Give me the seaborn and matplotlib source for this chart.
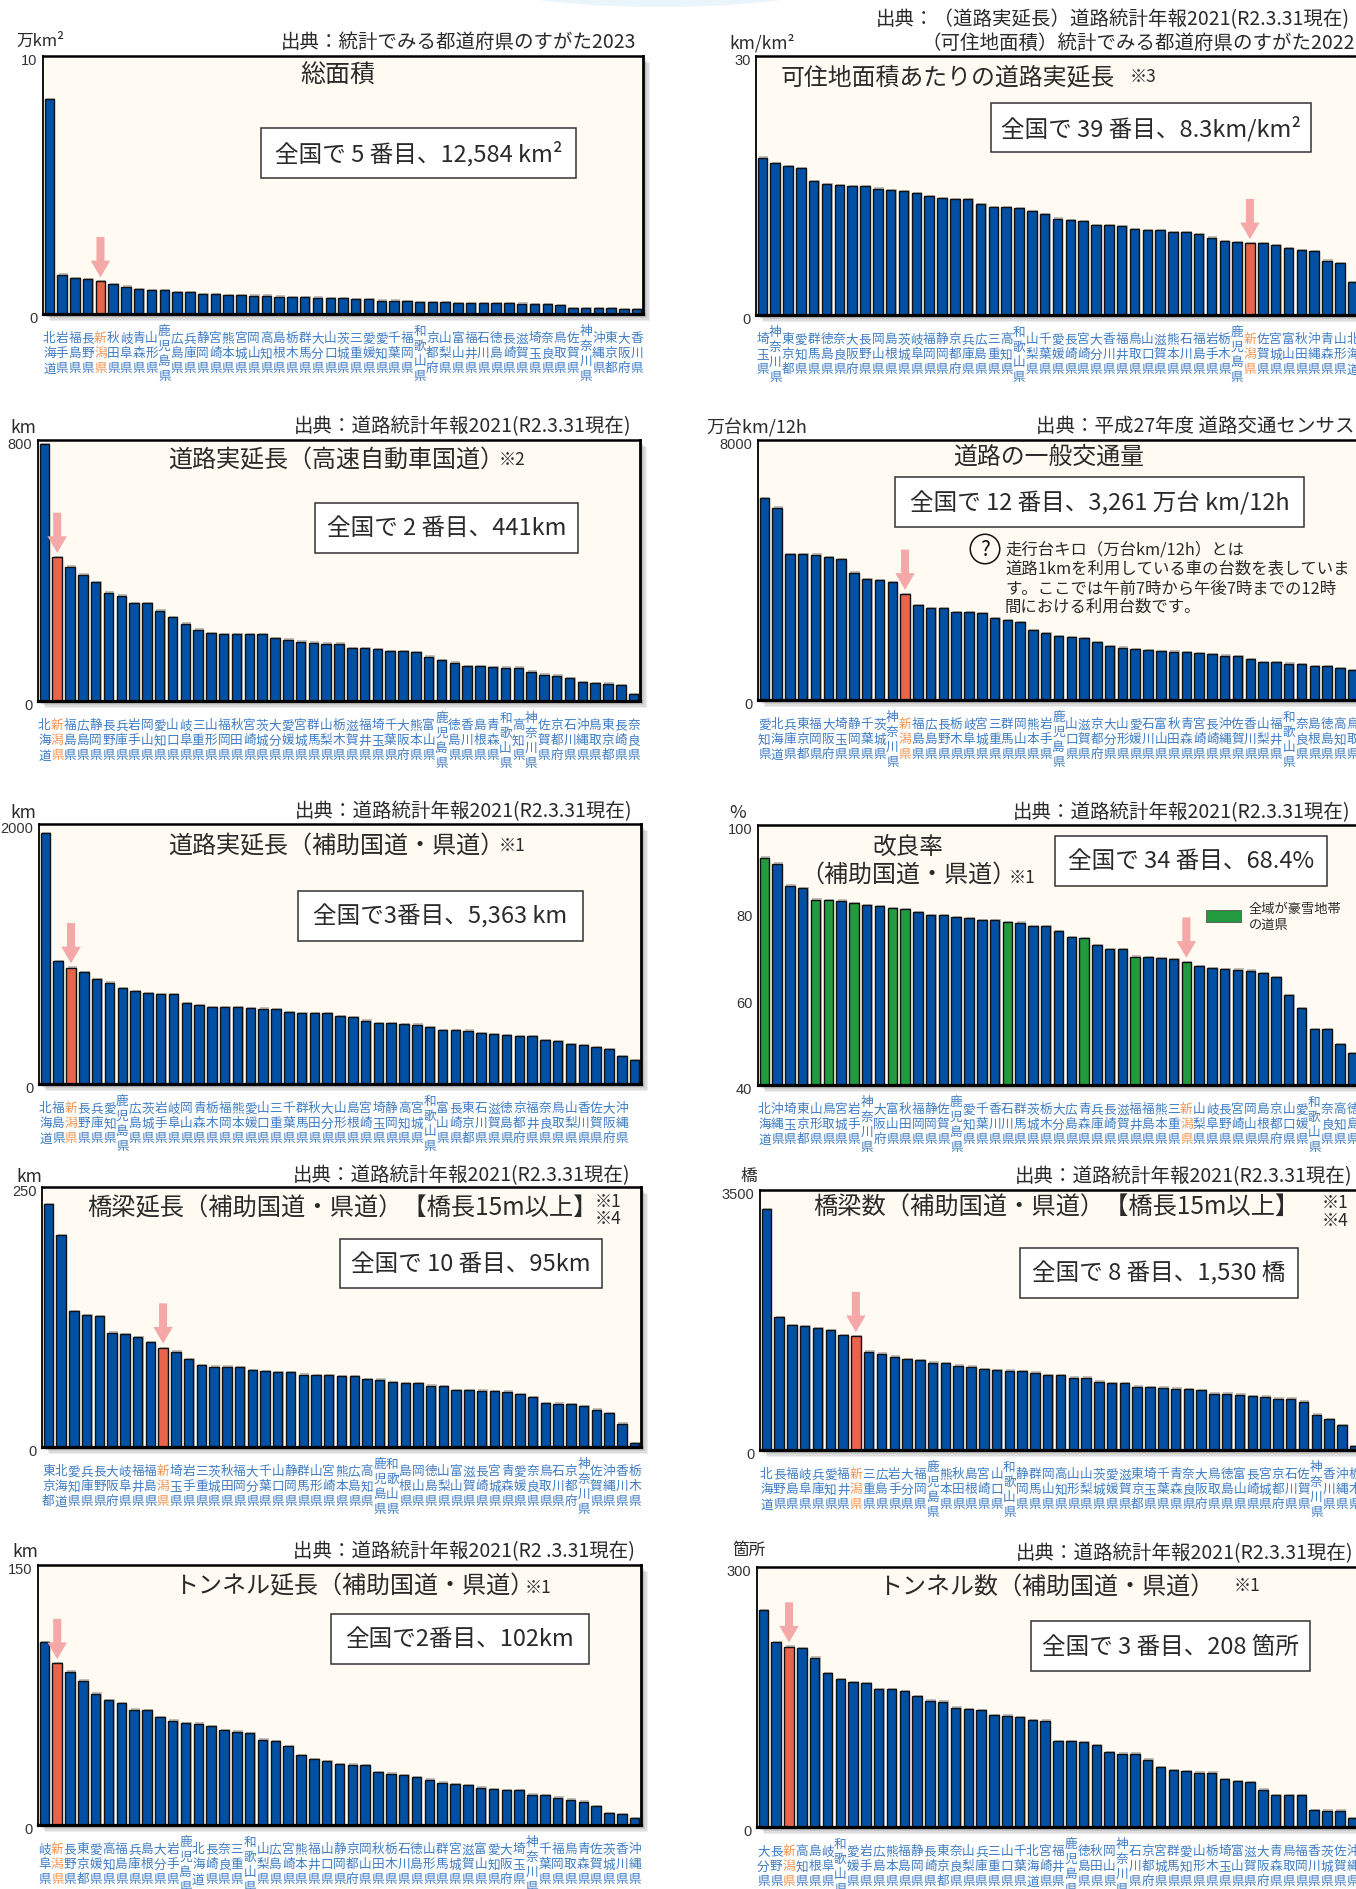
import matplotlib
matplotlib.use('Agg')
import matplotlib.pyplot as plt
import matplotlib.patheffects as pe
from matplotlib.patches import Rectangle, Ellipse
from matplotlib.transforms import Affine2D, ScaledTranslation, offset_copy
import pandas as pd
import seaborn as sns

# values, largest first as in each chart
area_names = '北海道 岩手県 福島県 長野県 新潟県 秋田県 岐阜県 青森県 山形県 鹿児島県 広島県 兵庫県 静岡県 宮崎県 熊本県 宮城県 岡山県 高知県 島根県 栃木県 群馬県 大分県 山口県 茨城県 三重県 愛媛県 愛知県 千葉県 福岡県 和歌山県 京都府 山梨県 富山県 福井県 石川県 徳島県 長崎県 滋賀県 埼玉県 奈良県 鳥取県 佐賀県 神奈川県 沖縄県 東京都 大阪府 香川県'.split()
area_vals = [8.34, 1.53, 1.38, 1.36, 1.26, 1.16, 1.06, 0.97, 0.93, 0.92, 0.85, 0.84, 0.78, 0.77, 0.74, 0.73, 0.71, 0.71, 0.67, 0.64, 0.64, 0.63, 0.61, 0.61, 0.58, 0.57, 0.52, 0.52, 0.50, 0.47, 0.46, 0.45, 0.43, 0.42, 0.42, 0.42, 0.41, 0.40, 0.38, 0.37, 0.35, 0.24, 0.24, 0.23, 0.22, 0.19, 0.19]

density_names = '埼玉県 神奈川県 東京都 愛知県 群馬県 徳島県 奈良県 大阪府 長野県 岡山県 島根県 茨城県 岐阜県 福岡県 静岡県 京都府 兵庫県 広島県 三重県 高知県 和歌山県 山梨県 千葉県 愛媛県 長崎県 宮崎県 大分県 香川県 福井県 鳥取県 山口県 滋賀県 熊本県 石川県 福島県 岩手県 栃木県 鹿児島県 新潟県 佐賀県 宮城県 富山県 秋田県 沖縄県 青森県 山形県 北海道'.split()
density_vals = [18.24, 17.59, 17.24, 16.97, 15.5, 15.16, 15.04, 14.92, 14.89, 14.65, 14.5, 14.38, 14.08, 13.81, 13.5, 13.38, 13.38, 12.8, 12.46, 12.46, 12.42, 11.99, 11.69, 11.15, 10.95, 10.84, 10.45, 10.37, 10.3, 9.91, 9.83, 9.8, 9.64, 9.56, 9.41, 8.95, 8.56, 8.41, 8.3, 8.3, 8.06, 7.71, 7.48, 7.37, 6.29, 5.98, 3.82]

expressway_names = '北海道 新潟県 福島県 広島県 静岡県 長野県 兵庫県 岩手県 岡山県 愛知県 山口県 岐阜県 三重県 山形県 福岡県 秋田県 宮崎県 茨城県 大分県 愛媛県 宮城県 群馬県 山梨県 栃木県 滋賀県 福井県 埼玉県 千葉県 大阪府 熊本県 富山県 鹿児島県 徳島県 香川県 島根県 青森県 和歌山県 高知県 神奈川県 佐賀県 京都府 石川県 沖縄県 鳥取県 東京都 長崎県 奈良県'.split()
expressway_vals = [787, 441, 412, 387, 365, 332, 323, 301, 301, 277, 258, 237, 219, 207, 206, 205, 204, 204, 193, 188, 182, 179, 176, 176, 163, 161, 158, 154, 154, 149, 136, 126, 118, 107, 106, 104, 102, 102, 90, 81, 78, 69, 59, 55, 53, 49, 21]

traffic_names = '愛知県 北海道 兵庫県 東京都 福岡県 大阪府 埼玉県 静岡県 千葉県 茨城県 神奈川県 新潟県 福島県 広島県 長野県 栃木県 岐阜県 宮城県 三重県 群馬県 岡山県 熊本県 岩手県 鹿児島県 山口県 滋賀県 京都府 大分県 山形県 愛媛県 石川県 富山県 秋田県 青森県 宮崎県 長崎県 沖縄県 佐賀県 香川県 山梨県 福井県 和歌山県 奈良県 島根県 徳島県 高知県 鳥取県'.split()
traffic_vals = [6217, 5920, 4497, 4487, 4476, 4405, 4343, 3923, 3718, 3677, 3626, 3261, 2919, 2837, 2827, 2714, 2704, 2673, 2520, 2448, 2387, 2141, 2059, 1967, 1926, 1895, 1772, 1649, 1608, 1557, 1526, 1506, 1485, 1465, 1434, 1403, 1362, 1342, 1250, 1168, 1157, 1116, 1096, 1045, 1035, 983, 912]

# the reference leaves the last bar of this chart without a label
subsidy_names = '北海道 福島県 新潟県 長野県 兵庫県 愛知県 鹿児島県 広島県 茨城県 岩手県 岐阜県 岡山県 青森県 栃木県 福岡県 熊本県 愛媛県 山口県 三重県 千葉県 群馬県 秋田県 大分県 山形県 島根県 宮崎県 埼玉県 静岡県 高知県 宮城県 和歌山県 富山県 長崎県 東京都 石川県 滋賀県 徳島県 京都府 福井県 奈良県 鳥取県 山梨県 香川県 佐賀県 大阪府 沖縄県'.split() + ['']
subsidy_vals = [1931, 945, 896, 863, 804, 779, 738, 715, 699, 694, 691, 620, 607, 594, 594, 594, 586, 579, 576, 553, 548, 545, 545, 520, 515, 487, 469, 469, 461, 456, 440, 415, 412, 410, 392, 382, 374, 366, 366, 335, 328, 305, 297, 284, 266, 215, 184]

improve_names = '北海道 沖縄県 埼玉県 東京都 山形県 鳥取県 宮城県 岩手県 神奈川県 大阪府 富山県 秋田県 福岡県 静岡県 佐賀県 鹿児島県 愛知県 千葉県 香川県 石川県 群馬県 茨城県 栃木県 大分県 広島県 青森県 兵庫県 長崎県 滋賀県 福井県 福島県 熊本県 三重県 新潟県 山梨県 岐阜県 長野県 宮崎県 岡山県 島根県 京都府 山口県 愛媛県 和歌山県 奈良県 高知県 徳島県'.split()
improve_vals = [92.46, 91.08, 86.0, 85.47, 82.78, 82.63, 82.55, 81.94, 81.55, 81.32, 80.78, 80.55, 79.86, 79.25, 79.17, 78.71, 78.48, 78.1, 78.02, 77.63, 77.48, 76.71, 76.64, 75.56, 74.1, 73.95, 72.26, 71.34, 71.34, 69.65, 69.49, 69.26, 69.03, 68.4, 67.42, 67.04, 66.8, 66.65, 66.42, 65.81, 64.81, 60.66, 57.74, 52.98, 52.83, 49.45, 47.37]
snow_prefs = ['北海道', '山形県', '鳥取県', '岩手県', '富山県', '秋田県', '石川県', '青森県', '福井県', '新潟県']

bridge_len_names = '東京都 北海道 愛知県 兵庫県 長野県 大阪府 岐阜県 福井県 福島県 新潟県 埼玉県 岩手県 三重県 茨城県 秋田県 福岡県 大分県 千葉県 山口県 静岡県 群馬県 山形県 宮崎県 熊本県 広島県 高知県 鹿児島県 和歌山県 島根県 岡山県 徳島県 山梨県 富山県 滋賀県 長崎県 宮城県 青森県 愛媛県 奈良県 鳥取県 石川県 京都府 神奈川県 佐賀県 沖縄県 香川県 栃木県'.split()
bridge_len_vals = [233.3, 203.7, 130.8, 126.6, 125.6, 109.9, 108.3, 105.7, 100.6, 95.4, 91.6, 84.2, 78.4, 77.4, 77.4, 76.5, 73.9, 72.6, 72.0, 71.7, 69.7, 69.1, 68.8, 68.1, 67.8, 65.6, 64.9, 62.3, 61.1, 61.1, 59.1, 58.8, 54.9, 54.6, 54.3, 54.0, 53.3, 50.8, 48.2, 42.1, 41.8, 41.1, 39.2, 36.0, 32.5, 22.5, 3.9]

bridge_num_names = '北海道 長野県 福島県 岐阜県 兵庫県 愛知県 福井県 新潟県 三重県 広島県 岩手県 大分県 福岡県 鹿児島県 熊本県 秋田県 島根県 宮崎県 山口県 和歌山県 静岡県 群馬県 岡山県 高知県 山形県 山梨県 茨城県 愛媛県 滋賀県 東京都 埼玉県 千葉県 青森県 奈良県 大阪府 鳥取県 徳島県 富山県 長崎県 宮城県 京都府 石川県 佐賀県 神奈川県 香川県 沖縄県 栃木県'.split()
bridge_num_vals = [3244, 1786, 1678, 1669, 1638, 1615, 1548, 1530, 1324, 1297, 1256, 1220, 1207, 1176, 1171, 1135, 1122, 1090, 1072, 1068, 1063, 1041, 1010, 1010, 974, 974, 920, 897, 897, 853, 844, 839, 826, 821, 808, 758, 758, 745, 727, 718, 691, 691, 651, 476, 413, 332, 54]

tunnel_len_names = '岐阜県 新潟県 長野県 東京都 愛媛県 高知県 福島県 兵庫県 島根県 大分県 岩手県 鹿児島県 北海道 長崎県 奈良県 三重県 和歌山県 山梨県 広島県 宮崎県 熊本県 福井県 山口県 静岡県 京都府 岡山県 秋田県 栃木県 石川県 徳島県 山形県 群馬県 宮城県 滋賀県 富山県 愛知県 大阪府 埼玉県 神奈川県 千葉県 福岡県 鳥取県 青森県 佐賀県 茨城県 香川県 沖縄県'.split()
tunnel_len_vals = [105.6, 93.3, 88.5, 83.3, 75.8, 72.1, 70.2, 66.5, 66.2, 62.1, 60.2, 58.7, 58.5, 57.1, 54.6, 53.8, 53.1, 49.2, 48.5, 45.4, 40.2, 38.1, 36.7, 35.0, 34.8, 34.6, 30.6, 29.6, 28.7, 27.5, 26.2, 24.4, 23.5, 22.9, 21.5, 20.6, 20.0, 20.0, 17.5, 17.3, 15.8, 14.6, 13.5, 10.8, 6.7, 6.2, 3.8]

tunnel_num_names = '大分県 長野県 新潟県 高知県 島根県 岐阜県 和歌山県 愛媛県 岩手県 広島県 熊本県 福島県 静岡県 長崎県 東京都 奈良県 山梨県 兵庫県 三重県 山口県 千葉県 北海道 宮崎県 福井県 鹿児島県 徳島県 秋田県 岡山県 神奈川県 石川県 京都府 宮城県 群馬県 愛知県 山形県 栃木県 埼玉県 富山県 滋賀県 大阪府 青森県 鳥取県 福岡県 香川県 茨城県 佐賀県 沖縄県'.split()
tunnel_num_vals = [250, 213.5, 208, 206.5, 195.4, 177.7, 170.8, 167.3, 166.2, 159.2, 158.8, 156.9, 150.8, 145.8, 144.6, 137.7, 135.8, 134.6, 128.8, 128.5, 126.9, 123.5, 122.7, 98.8, 98.8, 97.7, 94.6, 86.5, 84.6, 84.6, 77.7, 68.8, 65.8, 64.6, 62.7, 62.7, 55, 53.1, 51.9, 43.1, 36.9, 36.9, 36.9, 19.6, 18.8, 18.8, 10]

SRC = '出典：道路統計年報2021(R2.3.31現在)'
BLUE, RED, GREEN = '#0050A5', '#E8644A', '#229A3E'
W, H = 1356, 1890

# (left, right, top, bottom) in pixels of the final image
panels = [
    dict(names=area_names, vals=area_vals, ticks=[0, 10], rect=(43, 643, 57, 315)),
    dict(names=density_names, vals=density_vals, ticks=[0, 30], rect=(756, 1359, 57, 316)),
    dict(names=expressway_names, vals=expressway_vals, ticks=[0, 800], rect=(38, 640, 441, 702)),
    dict(names=traffic_names, vals=traffic_vals, ticks=[0, 8000], rect=(758, 1359, 441, 701)),
    dict(names=subsidy_names, vals=subsidy_vals, ticks=[0, 2000], rect=(39, 641, 825, 1085)),
    dict(names=improve_names, vals=improve_vals, ticks=[40, 60, 80, 100], rect=(758, 1359, 826, 1086)),
    dict(names=bridge_len_names, vals=bridge_len_vals, ticks=[0, 250], rect=(42, 641, 1188, 1448)),
    dict(names=bridge_num_names, vals=bridge_num_vals, ticks=[0, 3500], rect=(760, 1361, 1191, 1451)),
    dict(names=tunnel_len_names, vals=tunnel_len_vals, ticks=[0, 150], rect=(38, 641, 1566, 1826)),
    dict(names=tunnel_num_names, vals=tunnel_num_vals, ticks=[0, 300], rect=(757, 1359, 1568, 1828)),
]

# x, y, text, size, ha
texts = [
    (40, 41, '万km²', 12, 'center'), (636, 42, '出典：統計でみる都道府県のすがた2023', 14, 'right'),
    (338, 75, '総面積', 18, 'center'),
    (762, 43, 'km/km²', 12.5, 'center'), (1350, 20, '出典：（道路実延長）道路統計年報2021(R2.3.31現在)', 14, 'right'),
    (1355, 43, '（可住地面積）統計でみる都道府県のすがた2022', 14, 'right'),
    (948, 78, '可住地面積あたりの道路実延長', 17.2, 'center'), (1143, 77, '※3', 12.5, 'center'),
    (23, 428, 'km', 12.5, 'center'), (631, 427, SRC, 14, 'right'),
    (336, 460, '道路実延長（高速自動車国道）', 17.3, 'center'), (512, 460, '※2', 12.5, 'center'),
    (757, 428, '万台km/12h', 13, 'center'), (1355, 427, '出典：平成27年度 道路交通センサス', 14, 'right'),
    (1049, 457, '道路の一般交通量', 17.2, 'center'),
    (1005, 550, '走行台キロ（万台km/12h）とは', 11.8, 'left'), (1005, 569, '道路1kmを利用している車の台数を表していま', 11.8, 'left'),
    (1005, 589, 'す。ここでは午前7時から午後7時までの12時', 11.8, 'left'), (1005, 607, '間における利用台数です。', 11.8, 'left'),
    (23, 813, 'km', 12.5, 'center'), (632, 812, SRC, 14, 'right'),
    (336, 846, '道路実延長（補助国道・県道）', 17.3, 'center'), (512, 846, '※1', 12.5, 'center'),
    (738, 813, '%', 13, 'center'), (1350, 813, SRC, 14, 'right'),
    (908, 847, '改良率', 17, 'center'), (908, 875, '（補助国道・県道）', 17.3, 'center'), (1022, 878, '※1', 12.5, 'center'),
    (1249, 909, '全域が豪雪地帯', 9.5, 'left'), (1249, 925, 'の道県', 9.5, 'left'),
    (29, 1177, 'km', 12.5, 'center'), (630, 1176, SRC, 14, 'right'),
    (342, 1208, '橋梁延長（補助国道・県道）【橋長15m以上】', 17.5, 'center'),
    (608, 1202, '※1', 12.5, 'center'), (608, 1219, '※4', 12.5, 'center'),
    (749, 1177, '橋', 12, 'center'), (1352, 1177, SRC, 14, 'right'),
    (1056, 1208, '橋梁数（補助国道・県道）【橋長15m以上】', 17.5, 'center'),
    (1335, 1203, '※1', 12.5, 'center'), (1335, 1221, '※4', 12.5, 'center'),
    (25, 1552, 'km', 12.5, 'center'), (635, 1552, '出典：道路統計年報2021(R2 .3.31現在)', 14, 'right'),
    (354, 1586, 'トンネル延長（補助国道・県道）', 17.3, 'center'), (538, 1588, '※1', 12.5, 'center'),
    (749, 1550, '箇所', 12, 'center'), (1353, 1554, SRC, 14, 'right'),
    (1046, 1587, 'トンネル数（補助国道・県道）', 17.3, 'center'), (1247, 1586, '※1', 12.5, 'center'),
]

# left, right, top, bottom, text
boxes = [
    (261, 576, 129, 179, '全国で 5 番目、12,584 km²'),
    (991, 1311, 104, 153, '全国で 39 番目、8.3km/km²'),
    (315, 578, 504, 554, '全国で 2 番目、441km'),
    (895, 1304, 478, 528, '全国で 12 番目、3,261 万台 km/12h'),
    (298, 583, 892, 942, '全国で3番目、5,363 km'),
    (1055, 1327, 837, 887, '全国で 34 番目、68.4%'),
    (340, 602, 1240, 1289, '全国で 10 番目、95km'),
    (1020, 1298, 1249, 1299, '全国で 8 番目、1,530 橋'),
    (331, 589, 1615, 1665, '全国で2番目、102km'),
    (1031, 1310, 1622, 1672, '全国で 3 番目、208 箇所'),
]

sns.set_theme(style='white')
plt.rcParams['font.family'] = ['Noto Sans CJK JP', 'DejaVu Sans']

fig = plt.figure(figsize=(W / 100, H / 100), dpi=100, facecolor='white')
px = Affine2D().scale(1, -1).translate(0, H)

fig.add_artist(Ellipse((660, -30), 420, 76, transform=px, color='#EAF4FB', lw=0))

for p in panels:
    x0, x1, y0, y1 = p['rect']
    ax = fig.add_axes([x0 / W, 1 - y1 / H, (x1 - x0) / W, (y1 - y0) / H])
    names, vals = p['names'], p['vals']
    df = pd.DataFrame({'rank': range(len(vals)), 'value': vals})
    niigata = names.index('新潟県')
    colors = [GREEN if names is improve_names and n in snow_prefs else BLUE for n in names]
    if names is not improve_names:
        colors[niigata] = RED
    sns.barplot(data=df, x='rank', y='value', hue='rank', palette=colors, legend=False,
                width=0.74, saturation=1, edgecolor='#111111', linewidth=1.0, ax=ax)
    for bar in ax.patches:
        bar.set_path_effects([pe.SimplePatchShadow(offset=(0.9, 0.9), shadow_rgbFace='#999999', alpha=0.6), pe.Normal()])

    ax.set_ylim(p['ticks'][0], p['ticks'][-1])
    ax.set_facecolor('#FFFBF2')
    ax.set_xlabel('')
    ax.set_ylabel('')
    ax.set_yticks(p['ticks'])
    ax.tick_params(axis='y', length=0, pad=4, labelsize=10.5, labelcolor='#333333')
    for lab in ax.get_yticklabels():
        lab.set_family('Liberation Sans')
        lab.set_transform(lab.get_transform() + ScaledTranslation(0, -2 / 72, fig.dpi_scale_trans))
    ax.set_xticks(range(len(names)))
    ax.set_xticklabels(['\n'.join(n) for n in names], fontsize=9.1, linespacing=1.2, va='center', color='#3E7CC4')
    ax.tick_params(axis='x', length=0, pad=28)
    ax.get_xticklabels()[niigata].set_color('#F4944F')

    for side, lw in zip(['top', 'left', 'right', 'bottom'], [1.8, 1.3, 2.0, 2.3]):
        ax.spines[side].set_linewidth(lw)
        ax.spines[side].set_color('black')
        ax.spines[side].set_visible(True)
    ax.patch.set_path_effects([pe.SimplePatchShadow(offset=(d, -d), shadow_rgbFace='black', alpha=0.07)
                               for d in (5, 4, 3, 2, 1)] + [pe.Normal()])

    # pink arrow pointing at Niigata
    tip = offset_copy(ax.transData, fig=fig, y=3, units='points')
    ax.annotate('', xy=(niigata, vals[niigata]), xycoords=tip, xytext=(0, 29), textcoords='offset points',
                arrowprops=dict(width=5.8, headwidth=14, headlength=12, shrink=0, color='#F4A9A8', lw=0))

for x, y, s, size, ha in texts:
    fig.text(x, y, s, transform=px, fontsize=size, ha=ha, va='center', color='#2A2A2A')

for left, right, top, bottom, s in boxes:
    fig.add_artist(Rectangle((left, top), right - left, bottom - top, transform=px,
                             facecolor='white', edgecolor='#333333', lw=1.1))
    fig.text((left + right) / 2, (top + bottom) / 2, s, transform=px, fontsize=17,
             ha='center', va='center', color='#2A2A2A')

# legend swatch and the question mark of the traffic chart
fig.add_artist(Rectangle((1206, 911), 35, 12, transform=px, facecolor=GREEN, edgecolor='#555555', lw=0.6))
fig.text(985, 550, '?', transform=px, fontsize=15, ha='center', va='center', color='#111111',
         bbox=dict(boxstyle='circle,pad=0.18', facecolor='none', edgecolor='#111111', lw=1.1))

fig.savefig('out.png', dpi=100)
